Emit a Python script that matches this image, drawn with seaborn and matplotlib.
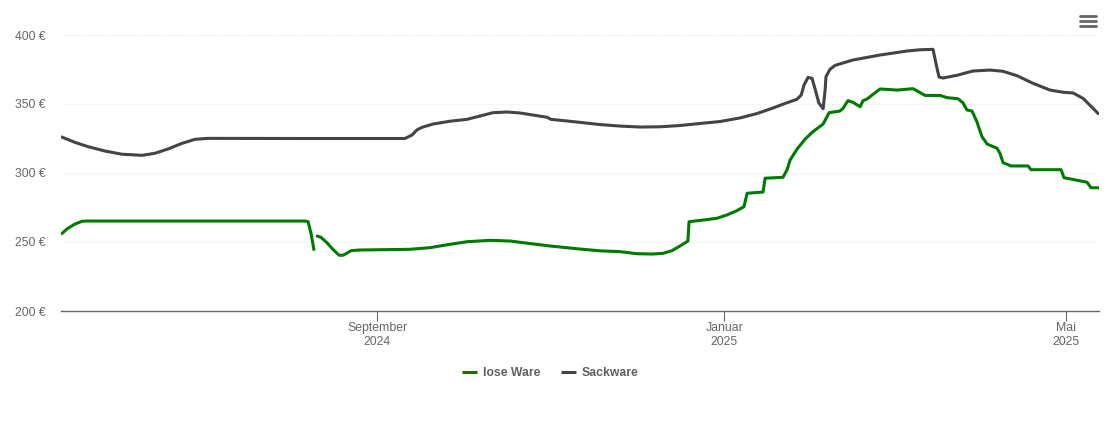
import pandas as pd
import matplotlib
matplotlib.use('Agg')
import matplotlib.pyplot as plt
from matplotlib.lines import Line2D
import seaborn as sns

# days counted from 1 Sep 2024
start = pd.Timestamp('2024-09-01')
lose_days_a = [-111, -108.6, -106.1, -103.6, -101.9, -62.2, -25.3, -24.2, -23.2, -22.1]
lose_vals_a = [255.6, 259.9, 263, 265, 265.2, 265.2, 265.2, 264.7, 256.5, 243.7]
lose_days_b = [-21.4, -19.7, -17.6, -15.5, -13.3, -11.9, -9.1, -6, 11.6, 18.6, 25.6, 31.6, 39.7, 46.7, 53.7,
               60.8, 71.3, 78.3, 85.4, 91.3, 96.9, 100.5, 103.6, 106.4, 109.2, 109.6, 114.5, 119.4, 122.9, 126.4,
               128.9, 130, 135.6, 136.3, 142.6, 144, 145.1, 147.5, 150.3, 153.1, 156.7, 158.8, 162.6, 163.7,
               165.4, 167.2, 169.7, 170.7, 172.1, 176.7, 182.7, 188.3, 192.5, 197.8, 200.2, 204.1, 205.8, 207.2,
               209, 210.7, 212.5, 214.3, 217.8, 218.8, 219.9, 222.7, 228.7, 229.7, 240.3, 241.3, 249.4, 250.8, 253.6]
lose_vals_b = [254.6, 253.4, 249.5, 244.7, 240.4, 240.4, 243.7, 244.2, 244.7, 245.9, 248.3, 250.2, 251.2, 250.7, 248.9,
               247.1, 244.9, 243.6, 243, 241.5, 241.3, 241.8, 243.7, 247.1, 250.7, 264.7, 265.9, 267.2, 269.6, 272.7,
               275.6, 285.3, 286.2, 296.2, 296.9, 302.2, 309.4, 317.2, 324.4, 329.9, 335.5, 343.7, 344.9, 346.9,
               352.4, 351.2, 348, 352.4, 353.6, 360.9, 360.1, 361.1, 356.2, 356.2, 354.6, 353.8, 350.9, 345.7,
               344.9, 337.2, 326.3, 321, 317.9, 314.3, 307.5, 305.1, 305.1, 302.4, 302.4, 296.6, 293.3, 289.3, 289.3]

sack_days = [-111, -106.1, -101.5, -95.5, -89.6, -82.5, -78, -73.4, -68.5, -63.9, -59.4, -27, 9.8, 12.3, 14,
             15.8, 19.7, 25.6, 31.6, 36.2, 40.7, 45.7, 50.2, 54.8, 59.7, 61.1, 71.3, 78.3, 85.4, 92.4,
             99.4, 106.4, 113.5, 120.5, 127.5, 133.5, 139.1, 143.3, 147.5, 149, 150, 151.4, 152.8, 153.8,
             155.2, 156.7, 157.4, 157.7, 159.1, 160.9, 167.2, 176.7, 186.2, 190.7, 195.3, 196.3, 197.4, 198.8,
             203.7, 209.3, 215.3, 219.9, 224.8, 230.4, 236.4, 241, 244.5, 248, 253.6]
sack_vals = [326.3, 322.2, 319.1, 315.9, 313.6, 312.8, 314.3, 317.4, 321.5, 324.4, 325.1, 325, 325, 327.5, 331.2,
             333.1, 335.5, 337.5, 338.9, 341.3, 343.7, 344.2, 343.5, 342, 340.4, 338.9, 336.7, 335.1, 334, 333.3,
             333.5, 334.4, 335.9, 337.3, 339.9, 343.1, 347.1, 350.4, 353.4, 356.5, 363.8, 369.3, 368.6, 361.4,
             350.7, 346.6, 360.1, 369.8, 375.1, 378, 381.9, 385.5, 388.4, 389.3, 389.6, 379.7, 369.6, 368.8,
             370.8, 373.9, 374.6, 373.7, 370.5, 365, 360.1, 358.5, 358, 354.1, 342.5]

y_ticks = [200, 250, 300, 350, 400]
x_ticks = ['2024-09-01', '2025-01-01', '2025-05-01']
x_labels = ['September\n2024', 'Januar\n2025', 'Mai\n2025']

frames = []
for name, seg, days, vals in [('lose Ware', 0, lose_days_a, lose_vals_a),
                              ('lose Ware', 1, lose_days_b, lose_vals_b),
                              ('Sackware', 2, sack_days, sack_vals)]:
    frames.append(pd.DataFrame({'date': start + pd.to_timedelta(days, unit='D'),
                                'price': vals, 'series': name, 'segment': seg}))
df = pd.concat(frames, ignore_index=True)

sns.set_theme(style='white')
plt.rcParams['font.family'] = ['Liberation Sans', 'DejaVu Sans']

fig = plt.figure(figsize=(11.10, 4.22), dpi=100)
ax = fig.add_axes([61 / 1110, 1 - 311 / 422, (1099 - 61) / 1110, 276 / 422])

sns.lineplot(data=df, x='date', y='price', hue='series', units='segment', estimator=None, sort=False,
             palette={'lose Ware': '#007a00', 'Sackware': '#434348'}, linewidth=2.2, ax=ax,
             solid_joinstyle='round', solid_capstyle='butt')

ax.set_xlim(start + pd.Timedelta(days=-111), start + pd.Timedelta(days=253.6))
ax.set_ylim(200, 400)
ax.set_xlabel('')
ax.set_ylabel('')

ax.set_yticks(y_ticks)
ax.set_yticklabels([f'{v} €' for v in y_ticks])
ax.set_xticks(pd.to_datetime(x_ticks))
ax.set_xticklabels(x_labels, linespacing=1.28)
ax.tick_params(axis='y', length=0, pad=11.2, labelsize=8.8, labelcolor='#666666')
ax.tick_params(axis='x', bottom=True, length=7.2, width=0.8, color='#666666', pad=0.5, labelsize=8.8, labelcolor='#666666')

ax.grid(axis='y', color='#e6e6e6', linewidth=0.7, linestyle=(0, (1, 1.5)))
ax.grid(axis='x', visible=False)
for side in ['top', 'left', 'right']:
    ax.spines[side].set_visible(False)
ax.spines['bottom'].set_color('#666666')
ax.spines['bottom'].set_linewidth(1.0)

sns.move_legend(ax, 'center', bbox_to_anchor=(550 / 1110, 1 - 373.5 / 422), bbox_transform=fig.transFigure,
                ncol=2, frameon=False, title=None, prop={'weight': 'bold', 'size': 8.8},
                labelcolor='#606060', handlelength=1.25, handletextpad=0.45, columnspacing=1.7)

# menu icon, top right
for y_px in [16, 21, 26]:
    fig.add_artist(Line2D([1080 / 1110, 1096 / 1110], [1 - y_px / 422] * 2, color='#666666', linewidth=2.0,
                          solid_capstyle='round'))

fig.savefig('out.png', dpi=100)
